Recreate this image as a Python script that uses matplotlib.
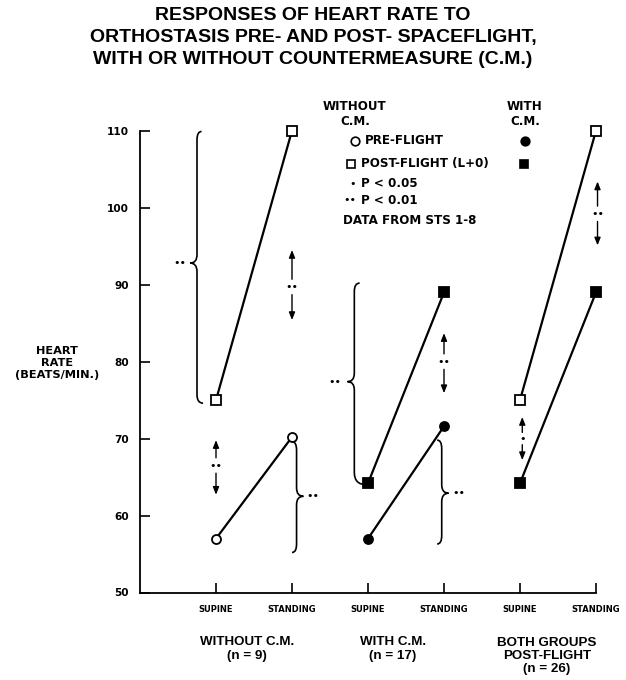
import matplotlib
matplotlib.use("Agg")
import matplotlib.pyplot as plt
from matplotlib.path import Path
from matplotlib.patches import PathPatch

# ---- data -------------------------------------------------------------
tick_labels = ["SUPINE", "STANDING", "SUPINE", "STANDING", "SUPINE", "STANDING"]
group_labels = ["WITHOUT C.M.\n(n = 9)", "WITH C.M.\n(n = 17)",
                "BOTH GROUPS\nPOST-FLIGHT\n(n = 26)"]

x_without = [1, 2]
x_with = [3, 4]
x_both = [5, 6]

pre_without = [57.0, 70.2]
post_without = [75.0, 110.0]
pre_with = [57.0, 71.6]
post_with = [64.2, 89.0]

# ---- figure -------------------------------------------------------------
W, H = 626, 680
fig = plt.figure(figsize=(W / 100, H / 100), dpi=100)
ax = fig.add_axes([140 / W, 1 - 592.5 / H, 456 / W, (592.5 - 130.7) / H])


def fx(px):
    return px / W


def fy(py):
    return 1 - py / H


BOLD_S = dict(family="DejaVu Sans", fontweight="bold")
BOLD_L = dict(family="Liberation Sans", fontweight="bold")

LW = 1.6
MS = 6.5


def series(x, y, marker, filled):
    ax.plot(x, y, "-", color="k", lw=LW, zorder=2, clip_on=False)
    ax.plot(x, y, marker, ms=MS, mec="k", mew=1.3,
            mfc="k" if filled else "white", zorder=3, clip_on=False)


series(x_without, pre_without, "o", False)
series(x_without, post_without, "s", False)
series(x_with, pre_with, "o", True)
series(x_with, post_with, "s", True)
series(x_both, post_without, "s", False)
series(x_both, post_with, "s", True)


# ---- curly braces -------------------------------------------------------
def brace(xs, y_top, y_bot, y_tip, side, curl=0.07, tip=0.09, h=1.1,
          curl_bot=None, h_bot=None):
    """Vertical curly brace; side=-1 puts the tip on the left."""
    d = -side
    cb = curl if curl_bot is None else curl_bot
    hb = h if h_bot is None else h_bot
    verts = [(xs + d * curl, y_top), (xs, y_top), (xs, y_top - h),
             (xs, y_tip + h),
             (xs, y_tip), (xs - d * tip, y_tip),
             (xs, y_tip), (xs, y_tip - h),
             (xs, y_bot + hb),
             (xs, y_bot), (xs + d * cb, y_bot)]
    codes = [Path.MOVETO, Path.CURVE3, Path.CURVE3, Path.LINETO,
             Path.CURVE3, Path.CURVE3, Path.CURVE3, Path.CURVE3,
             Path.LINETO, Path.CURVE3, Path.CURVE3]
    ax.add_patch(PathPatch(Path(verts, codes), fc="none", ec="k", lw=1.2,
                           zorder=2, clip_on=False))


def dots(x, y, s="••", size=8):
    ax.text(x, y, s, ha="center", va="center", fontsize=size,
            family="DejaVu Sans", zorder=4, clip_on=False)


brace(0.75, 109.9, 74.6, 92.8, side=-1, curl=0.06, curl_bot=0.08)
dots(0.53, 92.8)
brace(2.06, 69.6, 55.2, 62.5, side=+1, curl=0.06)
dots(2.28, 62.5)
brace(2.82, 90.2, 64.0, 77.4, side=-1, curl=0.07, curl_bot=0.16, h_bot=1.6)
dots(2.57, 77.4)
brace(3.97, 69.8, 56.3, 62.9, side=+1, curl=0.06)
dots(4.19, 62.9)


# ---- double arrows with significance marks ------------------------------
def double_arrow(x, y_top, y_bot, y_mid, s="••", gap=1.0):
    style = "-|>,head_length=0.45,head_width=0.18"
    for end, start in ((y_top, y_mid + gap), (y_bot, y_mid - gap)):
        ax.annotate("", xy=(x, end), xytext=(x, start),
                    annotation_clip=False,
                    arrowprops=dict(arrowstyle=style, color="k", lw=1.0,
                                    shrinkA=0, shrinkB=0))
    dots(x, y_mid, s)


double_arrow(1.0, 69.8, 62.7, 66.5)
double_arrow(2.0, 94.5, 85.4, 89.7)
double_arrow(4.0, 83.7, 75.9, 80.0)
double_arrow(6.02, 103.4, 95.1, 99.2)
double_arrow(5.03, 72.8, 67.2, 70.0, s="•", gap=0.8)

# ---- axes styling -------------------------------------------------------
ax.set_xlim(0, 6)
ax.set_ylim(50, 110)
ax.set_xticks([1, 2, 3, 4, 5, 6])
ax.set_xticklabels(tick_labels, fontsize=6, **BOLD_S)
ax.set_yticks(range(50, 111, 10))
ax.set_yticklabels([str(v) for v in range(50, 111, 10)], fontsize=7.6, **BOLD_S)
ax.tick_params(axis="x", direction="in", length=7, width=1.2, pad=9)
ax.tick_params(axis="y", direction="in", length=7, width=1.2, pad=8)
for side in ("top", "right"):
    ax.spines[side].set_visible(False)
for side in ("left", "bottom"):
    ax.spines[side].set_linewidth(1.3)

# ---- titles and labels --------------------------------------------------
TITLE = 14
fig.text(0.5, fy(15), "RESPONSES OF HEART RATE TO", ha="center", va="center",
         fontsize=TITLE, **BOLD_L)
fig.text(0.5, fy(37.5), "ORTHOSTASIS PRE- AND POST- SPACEFLIGHT,",
         ha="center", va="center", fontsize=TITLE, **BOLD_L)
fig.text(0.5, fy(60), "WITH OR WITHOUT COUNTERMEASURE (C.M.)",
         ha="center", va="center", fontsize=TITLE, **BOLD_L)

fig.text(fx(57), fy(363), "HEART\nRATE\n(BEATS/MIN.)", ha="center",
         va="center", fontsize=8.2, linespacing=1.25, **BOLD_S)

group_x = [247, 393, 547]
group_y = [649, 649, 656]
for gx, gy, lab in zip(group_x, group_y, group_labels):
    fig.text(fx(gx), fy(gy), lab, ha="center", va="center", fontsize=9.6,
             linespacing=1.15, **BOLD_L)

# ---- key ----------------------------------------------------------------
KEY = 8.6
fig.text(fx(355), fy(114), "WITHOUT\nC.M.", ha="center", va="center",
         fontsize=KEY, linespacing=1.2, **BOLD_S)
fig.text(fx(525), fy(114), "WITH\nC.M.", ha="center", va="center",
         fontsize=KEY, linespacing=1.2, **BOLD_S)

key_marks = [(355, 141, "o", False), (351, 163.5, "s", False),
             (525, 141, "o", True), (524, 163.5, "s", True)]
for px, py, m, filled in key_marks:
    fig.add_artist(plt.Line2D([fx(px)], [fy(py)], marker=m, ms=6.2,
                              mec="k", mew=1.2, mfc="k" if filled else "white",
                              transform=fig.transFigure))

fig.text(fx(365), fy(141), "PRE-FLIGHT", ha="left", va="center",
         fontsize=KEY, **BOLD_S)
fig.text(fx(361), fy(163.5), "POST-FLIGHT (L+0)", ha="left", va="center",
         fontsize=KEY, **BOLD_S)
fig.text(fx(353), fy(184), "•", ha="center", va="center", fontsize=8,
         family="DejaVu Sans")
fig.text(fx(361), fy(184), "P < 0.05", ha="left", va="center",
         fontsize=KEY, **BOLD_S)
fig.text(fx(350), fy(200), "••", ha="center", va="center", fontsize=8,
         family="DejaVu Sans")
fig.text(fx(361), fy(200), "P < 0.01", ha="left", va="center",
         fontsize=KEY, **BOLD_S)
fig.text(fx(343), fy(220), "DATA FROM STS 1-8", ha="left", va="center",
         fontsize=KEY, **BOLD_S)

fig.savefig("out.png", dpi=100)
